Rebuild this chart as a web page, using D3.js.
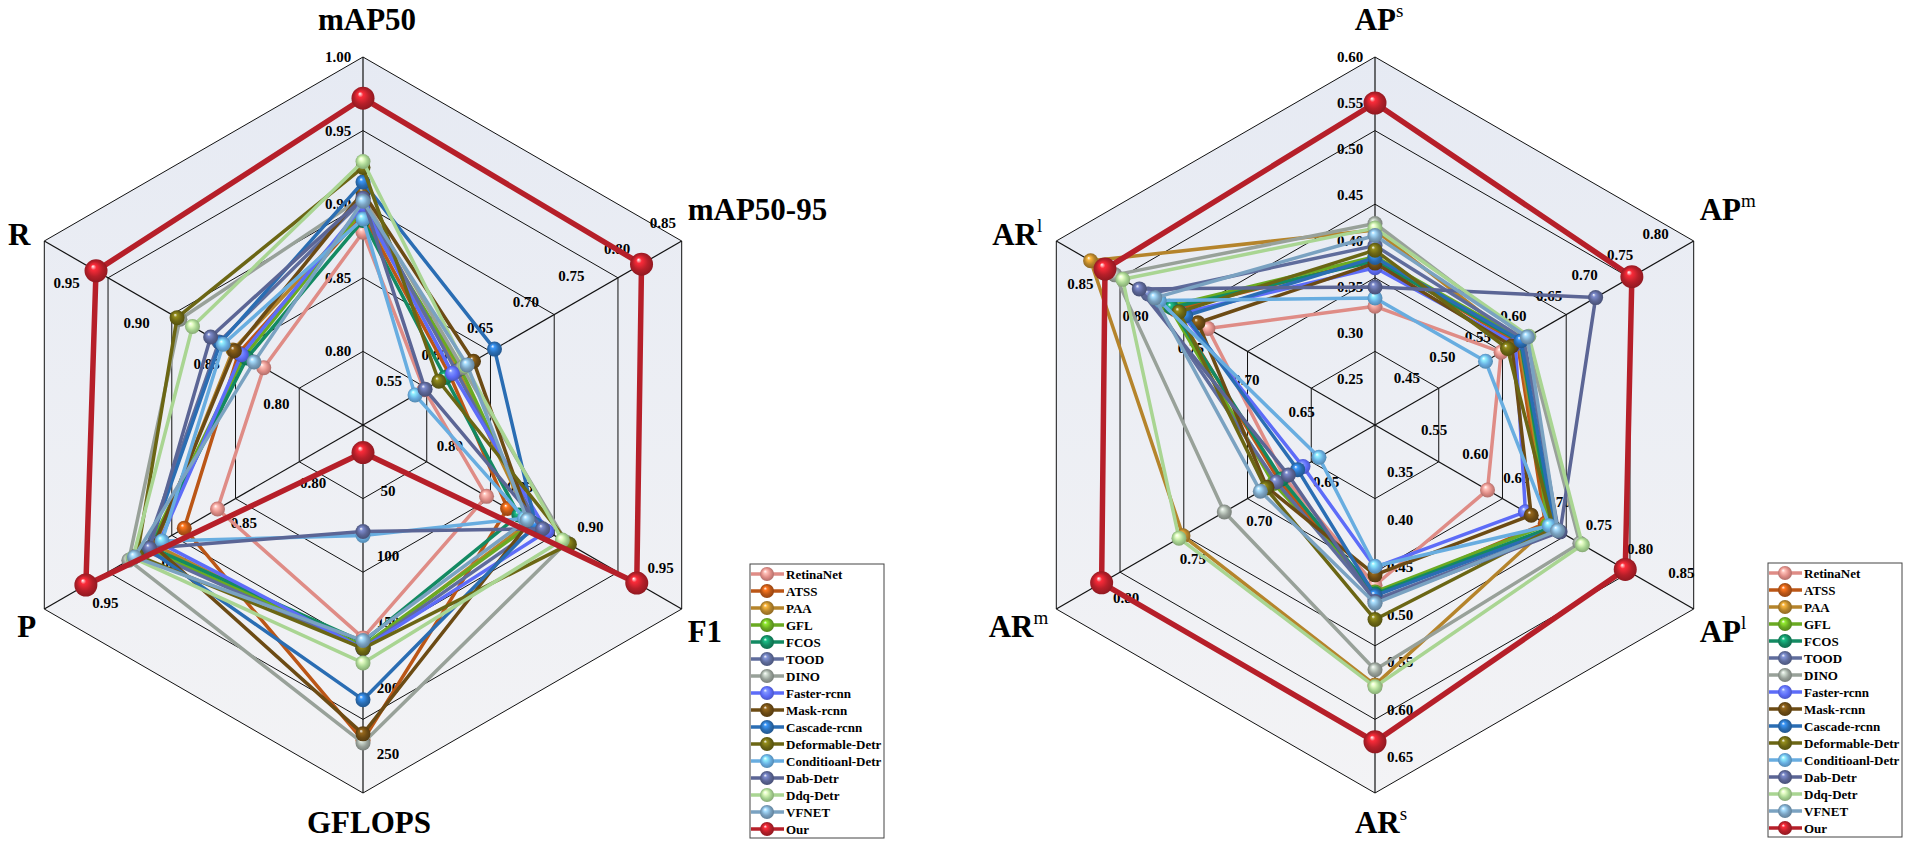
<!DOCTYPE html>
<html>
<head>
<meta charset="utf-8">
<script src="https://cdn.jsdelivr.net/npm/d3@7"></script>
<style>
body{margin:0;background:#fff;}
svg text{font-family:"Liberation Serif","Times New Roman",serif;font-weight:bold;fill:#000;}
</style>
</head>
<body>
<script>

var models=["RetinaNet","ATSS","PAA","GFL","FCOS","TOOD","DINO","Faster-rcnn","Mask-rcnn",
	"Cascade-rcnn","Deformable-Detr","Conditioanl-Detr","Dab-Detr","Ddq-Detr","VFNET","Our"];
var colors=["#df8c86","#bb5616","#b5842b","#6aaa22","#138a62","#5f6c9c","#98a199","#5d6cf8",
	"#6c4b14","#2a6db3","#6b6614","#68ade0","#5b6595","#a9d592","#7aa2c1","#b61f29"];

// left radar, one array per axis (same order as models)
var mAP50   =[0.881,0.893,0.895,0.897,0.889,0.903,0.905,0.899,0.908,0.915,0.925,0.890,0.904,0.929,0.902,0.972];
var mAP5095 =[0.575,0.603,0.612,0.615,0.598,0.610,0.617,0.606,0.629,0.652,0.591,0.565,0.576,0.620,0.622,0.813];
var F1      =[0.835,0.850,0.866,0.868,0.858,0.872,0.892,0.878,0.866,0.870,0.894,0.862,0.875,0.889,0.864,0.942];
var GFLOPS  =[162,240,170,168,165,170,242,170,235,209,170,84,81,181,164,21];
var P       =[0.860,0.884,0.905,0.910,0.908,0.912,0.924,0.902,0.906,0.910,0.918,0.900,0.909,0.921,0.920,0.955];
var R       =[0.818,0.836,0.840,0.832,0.830,0.850,0.878,0.834,0.839,0.849,0.880,0.847,0.856,0.869,0.825,0.938];

// right radar
var APs =[0.329,0.380,0.412,0.383,0.378,0.395,0.419,0.371,0.376,0.382,0.390,0.338,0.350,0.414,0.406,0.550];
var APm =[0.565,0.588,0.590,0.595,0.592,0.597,0.600,0.585,0.580,0.593,0.574,0.543,0.698,0.604,0.602,0.749];
var APl =[0.630,0.700,0.705,0.703,0.708,0.716,0.742,0.676,0.683,0.712,0.710,0.705,0.718,0.745,0.715,0.797];
var ARs =[0.469,0.480,0.574,0.476,0.478,0.484,0.558,0.450,0.458,0.480,0.505,0.449,0.486,0.576,0.488,0.634];
var ARm =[0.672,0.676,0.748,0.680,0.674,0.678,0.717,0.658,0.685,0.662,0.686,0.646,0.669,0.751,0.690,0.809];
var ARl =[0.746,0.776,0.852,0.781,0.779,0.800,0.830,0.770,0.755,0.766,0.772,0.790,0.808,0.823,0.794,0.839];

// axis names (clockwise from top), scale ranges and tick labels
var leftNames =[["mAP50",""],["mAP50-95",""],["F1",""],["GFLOPS",""],["P",""],["R",""]];
var leftDomains=[[0.75,1.00],[0.508,0.857],[0.747,0.974],[0,280],[0.755,0.985],[0.747,0.975]];
var leftTicks=[[0.80,0.85,0.90,0.95,1.00],[0.55,0.60,0.65,0.70,0.75,0.80,0.85],[0.80,0.85,0.90,0.95],
	[50,100,150,200,250],[0.80,0.85,0.90,0.95],[0.80,0.85,0.90,0.95]];

var rightNames =[["AP","s"],["AP","m"],["AP","l"],["AR","s"],["AR","m"],["AR","l"]];
var rightDomains=[[0.20,0.60],[0.3875,0.836],[0.4936,0.880],[0.30,0.688],[0.604,0.843],[0.595,0.883]];
var rightTicks=[[0.25,0.30,0.35,0.40,0.45,0.50,0.55,0.60],[0.45,0.50,0.55,0.60,0.65,0.70,0.75,0.80],
	[0.55,0.60,0.65,0.70,0.75,0.80,0.85],[0.35,0.40,0.45,0.50,0.55,0.60,0.65],[0.65,0.70,0.75,0.80],
	[0.65,0.70,0.75,0.80,0.85]];


var width=1910, height=848;
var radius=368, rings=5;

var svg=d3.select("body").append("svg")
	.attr("width",width).attr("height",height);

var defs=svg.append("defs");

var bg=defs.append("linearGradient").attr("id","webfill")
	.attr("x1",0).attr("y1",0).attr("x2",0).attr("y2",1);
bg.append("stop").attr("offset","0%").attr("stop-color","#e6eaf3");
bg.append("stop").attr("offset","100%").attr("stop-color","#f3f3f5");

// shiny balls
colors.forEach(function(c,i){
	var g=defs.append("radialGradient").attr("id","ball"+i)
		.attr("cx","50%").attr("cy","50%").attr("r","55%")
		.attr("fx","36%").attr("fy","30%");
	g.append("stop").attr("offset","0%").attr("stop-color","#ffffff");
	g.append("stop").attr("offset","22%").attr("stop-color",d3.color(c).brighter(0.9));
	g.append("stop").attr("offset","60%").attr("stop-color",c);
	g.append("stop").attr("offset","100%").attr("stop-color",d3.color(c).darker(0.8));
});

var fmt=function(v){return v>=10?String(v):d3.format(".2f")(v);};

// label placement around each vertex: [dx, dy(baseline), anchor]
var labelPos=[[4,-27,"middle"],[6,-21,"start"],[6,33,"start"],[6,40,"middle"],[-8,28,"end"],[-14,4,"end"]];

function radar(cx,cy,names,domains,ticks,series){
	var g=svg.append("g");
	var angle=function(i){return (-90+i*60)*Math.PI/180;};
	var scales=domains.map(function(d){return d3.scaleLinear().domain(d).range([0,radius]);});
	var pt=function(i,r){return [cx+r*Math.cos(angle(i)),cy+r*Math.sin(angle(i))];};

	// web
	var ringR=d3.range(1,rings+1).map(function(k){return k*radius/rings;});
	g.append("polygon")
		.attr("points",d3.range(6).map(function(i){return pt(i,radius).join(",");}).join(" "))
		.style("fill","url(#webfill)");
	g.selectAll(".ring").data(ringR).enter().append("polygon")
		.attr("points",function(r){return d3.range(6).map(function(i){return pt(i,r).join(",");}).join(" ");})
		.style("fill","none").style("stroke","#111").style("stroke-width",1);
	g.selectAll(".spoke").data(d3.range(6)).enter().append("line")
		.attr("x1",cx).attr("y1",cy)
		.attr("x2",function(i){return pt(i,radius)[0];})
		.attr("y2",function(i){return pt(i,radius)[1];})
		.style("stroke","#111").style("stroke-width",1.2);

	// tick labels, offset sideways from their axis
	ticks.forEach(function(tk,i){
		var a=angle(i), off=25;
		var ox=Math.sin(a)*off, oy=-Math.cos(a)*off;
		tk.forEach(function(v){
			var p=pt(i,scales[i](v));
			g.append("text")
				.attr("x",p[0]+ox).attr("y",p[1]+oy)
				.attr("text-anchor","middle").attr("dominant-baseline","central")
				.style("font-size","15px")
				.text(fmt(v));
		});
	});

	// axis titles
	names.forEach(function(n,i){
		var p=pt(i,radius), lp=labelPos[i];
		var t=g.append("text")
			.attr("x",p[0]+lp[0]).attr("y",p[1]+lp[1])
			.attr("text-anchor",lp[2])
			.style("font-size","31px");
		t.append("tspan").text(n[0]);
		if(n[1]){
			t.append("tspan").attr("dy",-13).style("font-size","19px").style("font-weight","normal").text(n[1]);
		}
	});

	// series
	var line=d3.line().curve(d3.curveLinearClosed);
	models.forEach(function(m,k){
		var pts=series.map(function(arr,i){return pt(i,scales[i](arr[k]));});
		var our=(k===models.length-1);
		var sg=g.append("g").attr("class","series");
		sg.append("path")
			.attr("d",line(pts))
			.style("fill","none")
			.style("stroke",colors[k])
			.style("stroke-width",our?5.5:3.5)
			.style("stroke-linejoin","round");
		sg.selectAll("circle").data(pts).enter().append("circle")
			.attr("cx",function(d){return d[0];})
			.attr("cy",function(d){return d[1];})
			.attr("r",our?11.5:7.5)
			.style("fill","url(#ball"+k+")");
	});
}

function legend(x,y){
	var w=134, step=17;
	var g=svg.append("g").attr("transform","translate("+x+","+y+")");
	g.append("rect").attr("width",w).attr("height",274)
		.style("fill","#fff").style("stroke","#444").style("stroke-width",1);
	models.forEach(function(m,k){
		var yy=10+k*step;
		g.append("line").attr("x1",1).attr("x2",34).attr("y1",yy).attr("y2",yy)
			.style("stroke",colors[k]).style("stroke-width",3.5);
		g.append("circle").attr("cx",17).attr("cy",yy).attr("r",7)
			.style("fill","url(#ball"+k+")");
		g.append("text").attr("x",36).attr("y",yy).attr("dominant-baseline","central")
			.style("font-size","13px").text(m);
	});
}

radar(363,425,leftNames,leftDomains,leftTicks,[mAP50,mAP5095,F1,GFLOPS,P,R]);
radar(1375,425,rightNames,rightDomains,rightTicks,[APs,APm,APl,ARs,ARm,ARl]);
legend(750,564);
legend(1768,563);

</script>
</body>
</html>
